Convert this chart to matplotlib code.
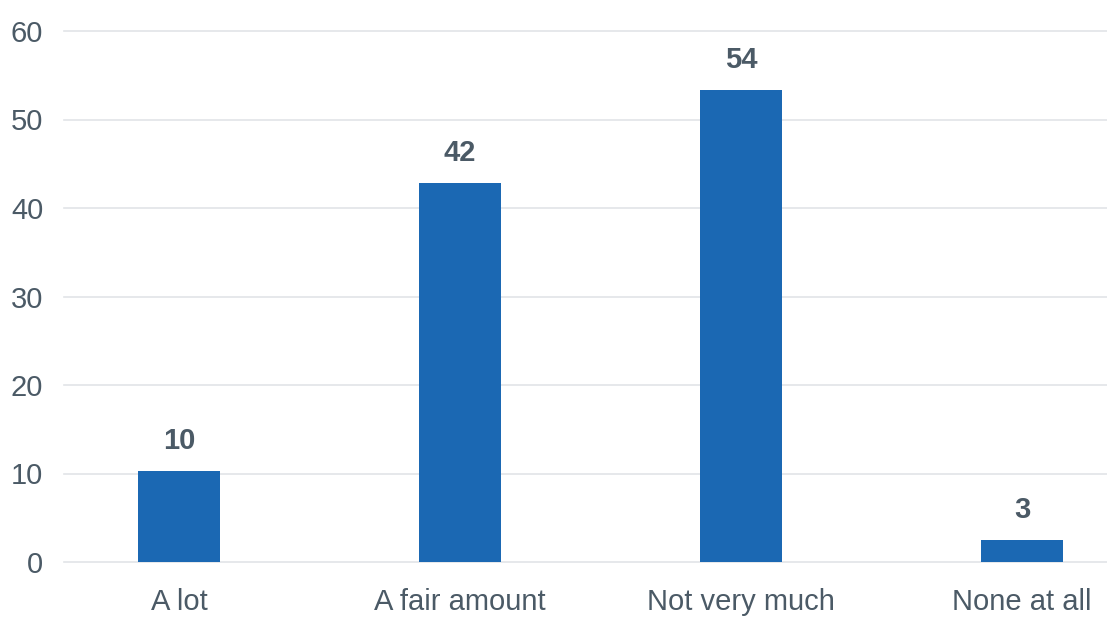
import matplotlib.pyplot as plt

categories = ["A lot", "A fair amount", "Not very much", "None at all"]
values = [10.3, 42.8, 53.3, 2.5]
labels = ["10", "42", "54", "3"]
yticks = [0, 10, 20, 30, 40, 50, 60]

bar_color = "#1b68b3"
text_color = "#4b5a66"
grid_color = "#e1e4e8"

plt.rcParams['font.family'] = ['Liberation Sans', 'DejaVu Sans']

fig = plt.figure(figsize=(11.07, 6.17), dpi=100)
ax = fig.add_axes([64 / 1107, 55 / 617, 1 - 64 / 1107, 531 / 617])

x = list(range(len(categories)))
bars = ax.bar(x, values, width=0.292, color=bar_color, zorder=3)

for b, lab in zip(bars, labels):
    ax.annotate(lab, (b.get_x() + b.get_width() / 2, b.get_height()),
                xytext=(0, 11.5), textcoords="offset points",
                ha="center", va="bottom", fontsize=21, fontweight="bold",
                color=text_color)

for t in yticks:
    ax.axhline(t, color=grid_color, lw=1.2, zorder=1, clip_on=False)

ax.set_xlim(-0.409, 3.302)
ax.set_ylim(0, 60)
ax.set_yticks(yticks)
ax.set_xticks(x)
ax.set_xticklabels(categories)

for s in ax.spines.values():
    s.set_visible(False)
ax.tick_params(axis="y", length=0, pad=15, labelsize=21, labelcolor=text_color)
ax.tick_params(axis="x", length=0, pad=19, labelsize=21, labelcolor=text_color)

fig.savefig("out.png", dpi=100)
